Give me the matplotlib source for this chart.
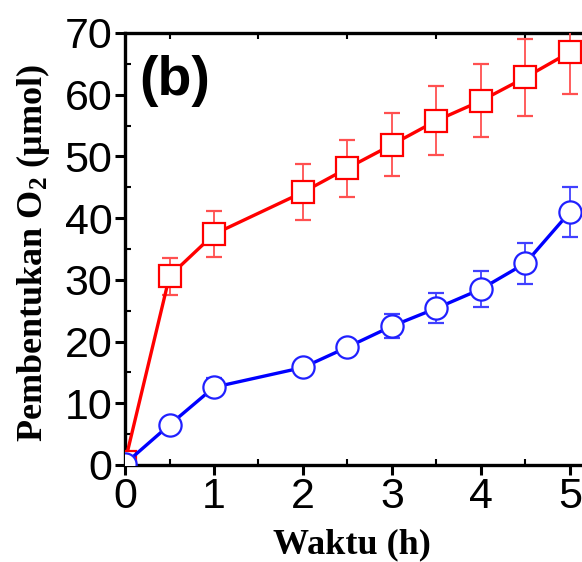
import matplotlib
matplotlib.use("Agg")
import matplotlib.pyplot as plt
from matplotlib.ticker import MultipleLocator

plt.rcParams["mathtext.fontset"] = "custom"
plt.rcParams["mathtext.rm"] = "Liberation Serif:bold"
plt.rcParams["mathtext.it"] = "Liberation Serif:bold"
plt.rcParams["mathtext.bf"] = "Liberation Serif:bold"
plt.rcParams["mathtext.default"] = "rm"

time_h = [0, 0.5, 1, 2, 2.5, 3, 3.5, 4, 4.5, 5]
red_o2 = [0.5, 30.6, 37.4, 44.2, 48.1, 51.9, 55.8, 59.0, 62.8, 66.9]
red_err = [0.5, 3.0, 3.7, 4.5, 4.6, 5.1, 5.6, 5.9, 6.3, 6.8]
blue_o2 = [0.2, 6.5, 12.6, 15.8, 19.1, 22.5, 25.4, 28.5, 32.7, 41.0]
blue_err = [0.3, 1.0, 1.5, 0.8, 1.0, 2.0, 2.4, 2.9, 3.3, 4.1]

xticks = [0, 1, 2, 3, 4, 5]
yticks = [0, 10, 20, 30, 40, 50, 60, 70]

fig = plt.figure(figsize=(5.82, 5.62), dpi=100)
ax = fig.add_axes([0.2148, 0.1726, 0.795, 0.7687])

ax.errorbar(time_h, red_o2, yerr=red_err, color="#ff0000", lw=2.4,
            marker="s", ms=15.5, mfc="white", mec="#ff0000", mew=1.6,
            ecolor="#ff5050", elinewidth=1.3, capsize=6, capthick=1.3,
            clip_on=True, zorder=3)
ax.errorbar(time_h, blue_o2, yerr=blue_err, color="#0000ff", lw=2.4,
            marker="o", ms=16, mfc="white", mec="#2020ff", mew=1.6,
            ecolor="#4040ff", elinewidth=1.3, capsize=6, capthick=1.3,
            clip_on=True, zorder=3)

ax.set_xlim(0, 5.2)
ax.set_ylim(0, 70)
ax.set_xticks(xticks)
ax.set_yticks(yticks)
ax.xaxis.set_minor_locator(MultipleLocator(0.5))
ax.yaxis.set_minor_locator(MultipleLocator(5))

for s in ax.spines.values():
    s.set_linewidth(2.4)

ax.tick_params(axis="both", which="major", direction="out", length=7, width=2.2,
               labelsize=31, pad=2)
ax.tick_params(axis="both", which="minor", direction="in", length=4, width=1.5)
ax.tick_params(axis="x", which="both", top=True)
ax.tick_params(axis="x", which="major", top=False)
for lab in ax.get_xticklabels() + ax.get_yticklabels():
    lab.set_fontfamily("Liberation Sans")

ax.set_xlabel("Waktu (h)", fontsize=26, fontweight="bold",
              fontfamily="Liberation Serif")
ax.set_ylabel("Pembentukan O$_2$ (μmol)", fontsize=26, fontweight="bold",
              fontfamily="Liberation Serif")
ax.xaxis.set_label_coords(0.49, -0.147)
ax.yaxis.set_label_coords(-0.158, 0.49)

ax.text(0.03, 0.95, "(b)", transform=ax.transAxes, fontsize=40,
        fontweight="bold", fontfamily="Liberation Sans", va="top", ha="left")

fig.savefig("out.png", dpi=100)
